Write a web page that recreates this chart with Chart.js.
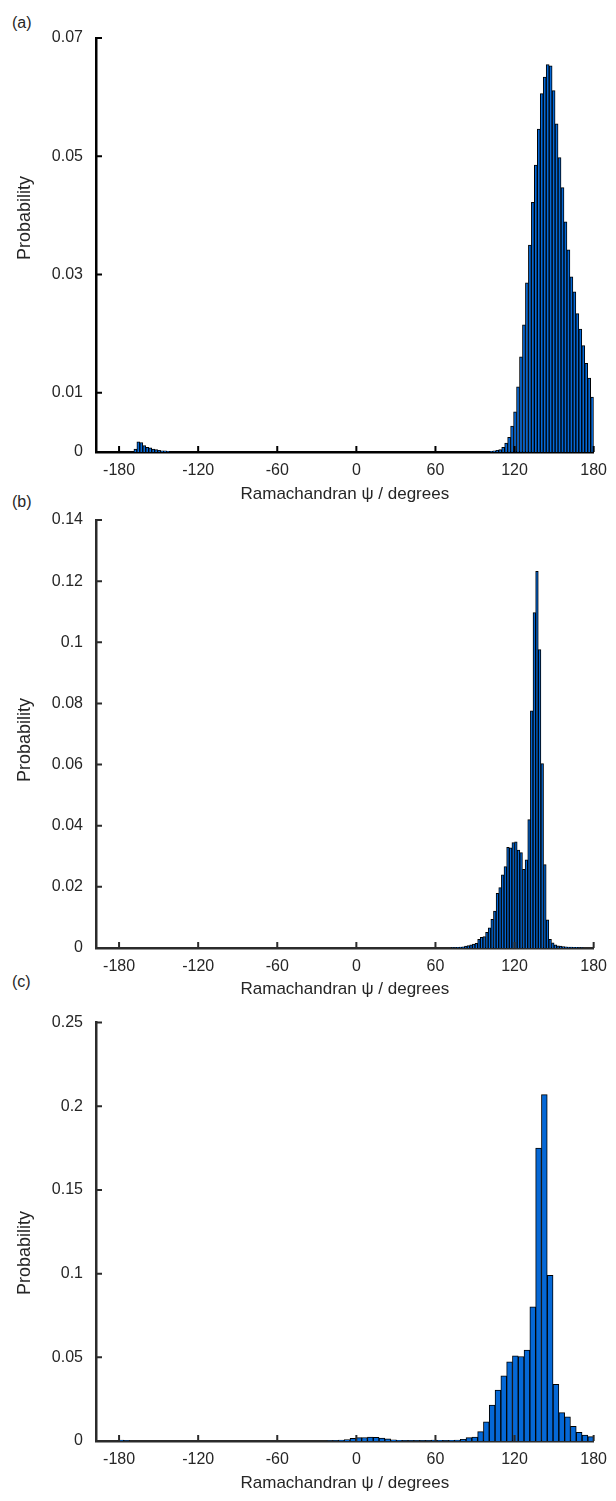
<!DOCTYPE html>
<html><head><meta charset="utf-8">
<script src="https://cdn.jsdelivr.net/npm/chart.js@4.4.0/dist/chart.umd.min.js"></script>
<style>
html,body{margin:0;padding:0;background:#fff;}
body{width:616px;height:1501px;position:relative;overflow:hidden;}
canvas{position:absolute;left:0;}
.lab{position:absolute;left:12px;font-family:'Liberation Sans',Arial,sans-serif;font-size:16px;line-height:16px;color:#262626;}
</style></head><body>
<div class="lab" style="top:15px">(a)</div>
<div class="lab" style="top:494px">(b)</div>
<div class="lab" style="top:974px">(c)</div>
<canvas id="ca" width="616" height="505" style="top:0px;width:616px;height:505px"></canvas>
<canvas id="cb" width="616" height="505" style="top:495px;width:616px;height:505px"></canvas>
<canvas id="cc" width="616" height="501" style="top:1000px;width:616px;height:501px"></canvas>
<script>
// ---- tick labels ----
const xTickValues = [-180, -120, -60, 0, 60, 120, 180];
const xTickLabels = ['-180', '-120', '-60', '0', '60', '120', '180'];
const xTitle = 'Ramachandran \u03C8 / degrees';
const yTitle = 'Probability';

// ---- panel (a): bin centres (degrees) and probabilities ----
const psiA = [-167.625, -165.375, -163.125, -160.875, -158.625, -156.375, -154.125, -151.875, -149.625, -147.375, -145.125, -142.875,
  102.375, 104.625, 106.875, 109.125, 111.375, 113.625, 115.875, 118.125, 120.375, 122.625, 124.875, 127.125, 129.375, 131.625,
  133.875, 136.125, 138.375, 140.625, 142.875, 145.125, 147.375, 149.625, 151.875, 154.125, 156.375, 158.625, 160.875, 163.125,
  165.375, 167.625, 169.875, 172.125, 174.375, 176.625, 178.875];
const probA = [0.0005, 0.0017, 0.0016, 0.0011, 0.0008, 0.0007, 0.0005, 0.0004, 0.0003, 0.0002, 0.0002, 0.0001,
  0.0001, 0.0002, 0.0003, 0.0004, 0.0008, 0.0015, 0.0025, 0.0044, 0.0068, 0.011, 0.0161, 0.0215, 0.0286, 0.035,
  0.0422, 0.0485, 0.0546, 0.0606, 0.0634, 0.0655, 0.0653, 0.0611, 0.0555, 0.0498, 0.0447, 0.0389, 0.0342, 0.0296,
  0.0271, 0.0234, 0.0208, 0.018, 0.015, 0.0125, 0.0093];
const yTicksA = [0, 0.01, 0.03, 0.05, 0.07];
const yLabelsA = ['0', '0.01', '0.03', '0.05', '0.07'];

// ---- panel (b) ----
const psiB = [73, 75, 77, 79, 81, 83, 85, 87, 89, 91, 93, 95, 97, 99, 101, 103, 105, 107, 109, 111, 113, 115, 117, 119, 121,
  123, 125, 127, 129, 131, 133, 135, 137, 139, 141, 143, 145, 147, 149, 151, 153, 155, 157, 159, 161, 163, 165, 167, 169, 171];
const probB = [0.0001, 0.0001, 0.0002, 0.0003, 0.0004, 0.0006, 0.0008, 0.001, 0.0013, 0.0015, 0.0028, 0.0035, 0.0037, 0.0051, 0.0066,
  0.0094, 0.0121, 0.0179, 0.0198, 0.0239, 0.0266, 0.0329, 0.0328, 0.0345, 0.0347, 0.032, 0.0312, 0.0257, 0.0288, 0.042,
  0.0776, 0.1097, 0.1232, 0.0976, 0.0603, 0.0273, 0.0092, 0.0028, 0.0017, 0.001, 0.0007, 0.0006, 0.0005, 0.0004, 0.0003,
  0.0003, 0.0002, 0.0002, 0.0001, 0.0001];
const yTicksB = [0, 0.02, 0.04, 0.06, 0.08, 0.1, 0.12, 0.14];
const yLabelsB = ['0', '0.02', '0.04', '0.06', '0.08', '0.1', '0.12', '0.14'];

// ---- panel (c) ----
const psiC = [-178.6, -174.2, -20.2, -15.8, -11.4, -7.0, -2.6, 1.8, 6.2, 10.6, 15.0, 19.4, 23.8, 28.2, 32.6, 37.0, 41.4, 45.8,
  50.2, 54.6, 59.0, 63.4, 67.8, 72.2, 76.6, 81.0, 85.4, 89.8, 94.2, 98.6, 103.0, 107.4, 111.8, 116.2, 120.6, 125.0, 129.4,
  133.8, 138.2, 142.6, 147.0, 151.4, 155.8, 160.2, 164.6, 169.0, 173.4, 177.8];
const probC = [0.0006, 0.0003, 0.0001, 0.0002, 0.0005, 0.0009, 0.0016, 0.002, 0.0021, 0.0023, 0.0022, 0.0018, 0.0013, 0.0007, 0.0004,
  0.0003, 0.0003, 0.0003, 0.0003, 0.0003, 0.0005, 0.0004, 0.0003, 0.0004, 0.0005, 0.001, 0.002, 0.0024, 0.0056, 0.0115, 0.0215,
  0.0304, 0.039, 0.0473, 0.0509, 0.0505, 0.0543, 0.0801, 0.175, 0.207, 0.099, 0.0338, 0.017, 0.0145, 0.0088, 0.0052, 0.0036, 0.0026];
const yTicksC = [0, 0.05, 0.1, 0.15, 0.2, 0.25];
const yLabelsC = ['0', '0.05', '0.1', '0.15', '0.2', '0.25'];

const FONT = "'Liberation Sans', Arial, sans-serif";
const TEXT = '#262626';
const BAR_FILL = '#0568d6';

const inTicks = {
  id: 'inTicks',
  afterDraw(chart, args, opts) {
    const {ctx, chartArea: a, scales: {x, y}} = chart;
    ctx.save();
    ctx.strokeStyle = opts.color;
    ctx.lineWidth = 2;
    ctx.beginPath();
    x.ticks.forEach(t => { const px = x.getPixelForValue(t.value); ctx.moveTo(px, a.bottom); ctx.lineTo(px, a.bottom - 6); });
    y.ticks.forEach(t => { const py = y.getPixelForValue(t.value); ctx.moveTo(a.left, py); ctx.lineTo(a.left + 6, py); });
    ctx.stroke();
    // y axis title
    ctx.translate(opts.titleX, opts.titleY);
    ctx.rotate(-Math.PI / 2);
    ctx.fillStyle = TEXT;
    ctx.font = opts.titleSize + 'px ' + FONT;
    ctx.textAlign = 'center';
    ctx.textBaseline = 'middle';
    ctx.fillText(yTitle, 0, 0);
    ctx.restore();
  }
};

function makePanel(id, psi, prob, yTicks, yLabels, g) {
  const data = psi.map((v, i) => ({x: v, y: prob[i]}));
  return new Chart(document.getElementById(id), {
    type: 'bar',
    data: {datasets: [{data, backgroundColor: BAR_FILL, borderColor: '#000', borderWidth: 1,
      barPercentage: 1, categoryPercentage: 1}]},
    plugins: [inTicks],
    options: {
      responsive: false, animation: false, devicePixelRatio: 1,
      layout: {padding: {left: 0, right: 19, top: g.top, bottom: 0}},
      plugins: {legend: {display: false}, tooltip: {enabled: false},
        inTicks: {color: g.axis, titleX: 25, titleY: g.ty, titleSize: 18}},
      scales: {
        x: {
          type: 'linear', min: -197.5, max: 180, offset: false, z: 1,
          afterBuildTicks: s => { s.ticks = xTickValues.map(v => ({value: v})); },
          afterFit: s => { s.height = g.xh; },
          grid: {display: false, drawTicks: false, offset: false},
          border: {display: true, color: g.axis, width: 2.5},
          ticks: {autoSkip: false, maxRotation: 0, padding: 9, color: TEXT, font: {family: FONT, size: 16},
            callback: (v, i) => xTickLabels[i]},
          title: {display: true, text: xTitle, color: TEXT, font: {family: FONT, size: 17}, padding: {top: 0, bottom: g.tb}}
        },
        y: {
          type: 'linear', min: 0, max: yTicks[yTicks.length - 1], z: 1,
          afterBuildTicks: s => { s.ticks = yTicks.map(v => ({value: v})); },
          afterFit: s => { s.width = 96; },
          grid: {display: false, drawTicks: false},
          border: {display: true, color: g.axis, width: 2.5},
          ticks: {autoSkip: false, padding: 13, color: TEXT, font: {family: FONT, size: 16},
            callback: (v, i) => yLabels[i]},
          title: {display: false}
        }
      }
    }
  });
}

makePanel('ca', psiA, probA, yTicksA, yLabelsA, {top: 38, xh: 53, tb: 0.5, axis: '#000', ty: 218});
makePanel('cb', psiB, probB, yTicksB, yLabelsB, {top: 25, xh: 52, tb: 0.5, axis: '#2b2b2b', ty: 245});
makePanel('cc', psiC, probC, yTicksC, yLabelsC, {top: 22, xh: 60, tb: 7.5, axis: '#2b2b2b', ty: 253});
</script>
</body></html>
